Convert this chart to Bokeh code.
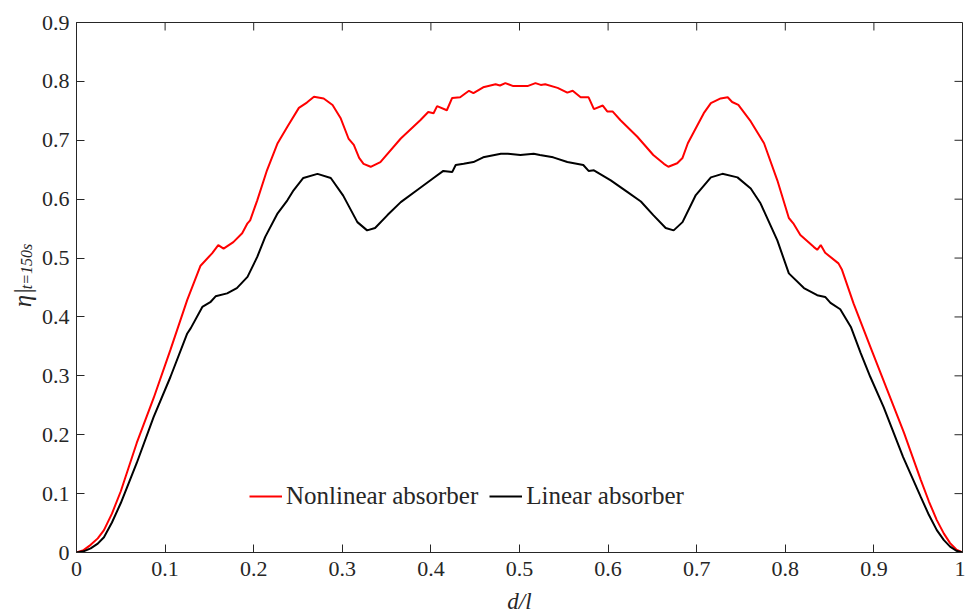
import numpy as np
from bokeh.plotting import figure
from bokeh.layouts import row, column
from bokeh.models import (ColumnDataSource, LinearAxis, Range1d, Legend, LegendItem,
                          Label, FixedTicker)
from bokeh.embed import file_html
from bokeh.resources import INLINE

# ---------------- data ----------------
nonlinear_x = [0, 0.008, 0.016, 0.024, 0.031, 0.04, 0.05, 0.068, 0.087, 0.106, 0.125, 0.140,
               0.153, 0.160, 0.166, 0.177, 0.187, 0.193, 0.196, 0.204, 0.215, 0.227, 0.238,
               0.251, 0.260, 0.268, 0.279, 0.289, 0.298, 0.307, 0.313, 0.319, 0.324, 0.332,
               0.343, 0.366, 0.388, 0.397, 0.403, 0.407, 0.418, 0.424, 0.433, 0.443, 0.448,
               0.459, 0.473, 0.478, 0.484, 0.493, 0.509, 0.518, 0.524, 0.529, 0.543, 0.554,
               0.560, 0.569, 0.578, 0.584, 0.594, 0.599, 0.605, 0.614, 0.633, 0.651, 0.663,
               0.668, 0.678, 0.684, 0.690, 0.696, 0.708, 0.716, 0.727, 0.735, 0.740, 0.747,
               0.761, 0.776, 0.791, 0.804, 0.809, 0.817, 0.832, 0.836, 0.840, 0.845, 0.860,
               0.864, 0.877, 0.896, 0.915, 0.934, 0.953, 0.962, 0.971, 0.979, 0.986, 0.993,
               1.0]
nonlinear_y = [0, 0.004, 0.013, 0.024, 0.038, 0.066, 0.104, 0.186, 0.262, 0.344, 0.429, 0.487,
               0.508, 0.522, 0.516, 0.527, 0.542, 0.559, 0.564, 0.598, 0.649, 0.695, 0.723,
               0.755, 0.764, 0.774, 0.771, 0.760, 0.738, 0.703, 0.692, 0.670, 0.660, 0.655,
               0.663, 0.703, 0.734, 0.748, 0.746, 0.758, 0.751, 0.772, 0.773, 0.784, 0.780,
               0.790, 0.795, 0.793, 0.797, 0.792, 0.792, 0.797, 0.794, 0.795, 0.789, 0.781,
               0.784, 0.773, 0.773, 0.753, 0.759, 0.749, 0.749, 0.734, 0.706, 0.675, 0.660,
               0.655, 0.661, 0.670, 0.695, 0.712, 0.746, 0.763, 0.771, 0.773, 0.765, 0.760,
               0.732, 0.695, 0.632, 0.568, 0.559, 0.539, 0.519, 0.514, 0.522, 0.509, 0.491,
               0.480, 0.423, 0.349, 0.276, 0.203, 0.123, 0.087, 0.055, 0.032, 0.016, 0.005,
               0]

linear_x = [0, 0.008, 0.016, 0.024, 0.031, 0.04, 0.05, 0.068, 0.087, 0.106, 0.125, 0.129,
            0.142, 0.151, 0.157, 0.170, 0.181, 0.193, 0.204, 0.213, 0.227, 0.238, 0.245,
            0.256, 0.272, 0.287, 0.301, 0.317, 0.328, 0.337, 0.351, 0.366, 0.385, 0.403,
            0.414, 0.424, 0.428, 0.437, 0.448, 0.459, 0.479, 0.487, 0.501, 0.516, 0.523,
            0.538, 0.554, 0.572, 0.578, 0.584, 0.603, 0.622, 0.637, 0.651, 0.665, 0.674,
            0.684, 0.699, 0.716, 0.729, 0.746, 0.761, 0.772, 0.791, 0.804, 0.821, 0.836,
            0.845, 0.851, 0.862, 0.874, 0.885, 0.896, 0.911, 0.933, 0.953, 0.962, 0.971,
            0.979, 0.986, 0.993, 1.0]
linear_y = [0, 0.002, 0.007, 0.015, 0.026, 0.051, 0.084, 0.152, 0.230, 0.298, 0.372, 0.381,
            0.417, 0.425, 0.435, 0.440, 0.449, 0.468, 0.502, 0.536, 0.576, 0.598, 0.615,
            0.636, 0.643, 0.636, 0.606, 0.561, 0.547, 0.551, 0.573, 0.595, 0.616, 0.636,
            0.648, 0.646, 0.658, 0.660, 0.663, 0.671, 0.677, 0.677, 0.675, 0.677, 0.675,
            0.671, 0.663, 0.658, 0.648, 0.649, 0.632, 0.612, 0.596, 0.573, 0.551, 0.547,
            0.561, 0.607, 0.637, 0.643, 0.637, 0.618, 0.593, 0.530, 0.474, 0.449, 0.437,
            0.434, 0.424, 0.413, 0.383, 0.339, 0.298, 0.247, 0.162, 0.094, 0.064, 0.038,
            0.021, 0.010, 0.003, 0]

x_ticks = [0, 0.1, 0.2, 0.3, 0.4, 0.5, 0.6, 0.7, 0.8, 0.9, 1.0]
y_ticks = [0, 0.1, 0.2, 0.3, 0.4, 0.5, 0.6, 0.7, 0.8, 0.9]
x_tick_labels = {0: "0", 0.1: "0.1", 0.2: "0.2", 0.3: "0.3", 0.4: "0.4", 0.5: "0.5",
                 0.6: "0.6", 0.7: "0.7", 0.8: "0.8", 0.9: "0.9", 1.0: "1"}
y_tick_labels = {0: "0", 0.1: "0.1", 0.2: "0.2", 0.3: "0.3", 0.4: "0.4", 0.5: "0.5",
                 0.6: "0.6", 0.7: "0.7", 0.8: "0.8", 0.9: "0.9"}
x_min, x_max = 0, 1
y_min, y_max = 0, 0.9
series_names = ["Nonlinear absorber", "Linear absorber"]
x_title = "d/l"
y_title_main = "η|"
y_title_sub = "t=150s"

# ---------------- styles ----------------
FONT = "Liberation Serif"
AX = "#262626"
W, H = 965, 614
LABEL_W = 38          # strip holding the y-axis title
XLAB_H = 26           # strip holding the x-axis title
BORDER_L, BORDER_R, BORDER_T = 76, 3, 22
MAIN_H = H - XLAB_H


def bare(fig):
    fig.outline_line_color = None
    fig.grid.visible = False
    fig.background_fill_color = "white"
    fig.border_fill_color = "white"


# ---------------- main figure ----------------
p = figure(width=W - LABEL_W, height=MAIN_H, output_backend="svg", toolbar_location=None,
           x_range=Range1d(x_min, x_max), y_range=Range1d(y_min, y_max),
           min_border_left=BORDER_L - LABEL_W, min_border_right=BORDER_R,
           min_border_top=BORDER_T, min_border_bottom=MAIN_H - 552,
           x_axis_location=None, y_axis_location=None)
bare(p)
p.outline_line_color = AX
p.outline_line_width = 1


def style_axis(ax, ticks, labels, standoff):
    ax.ticker = FixedTicker(ticks=ticks)
    ax.major_label_overrides = labels
    ax.minor_tick_line_color = None
    ax.major_tick_in = 8
    ax.major_tick_out = 0
    ax.major_tick_line_color = AX
    ax.major_tick_line_width = 1
    ax.axis_line_color = AX
    ax.axis_line_width = 1
    ax.major_label_text_font = FONT
    ax.major_label_text_color = AX
    ax.major_label_text_font_size = "22px"
    ax.major_label_standoff = standoff


bottom = LinearAxis()
style_axis(bottom, x_ticks, x_tick_labels, 9)
left = LinearAxis()
style_axis(left, y_ticks, y_tick_labels, 7)
p.add_layout(bottom, "below")
p.add_layout(left, "left")

# tick marks on the top and right edges of the box (mirroring the axis ticks)
p.ray(x=x_ticks, y=[y_max] * len(x_ticks), length=8, length_units="screen",
      angle=-np.pi / 2, line_color=AX, line_width=1)
p.ray(x=[x_max] * len(y_ticks), y=y_ticks, length=8, length_units="screen",
      angle=np.pi, line_color=AX, line_width=1)

src_nl = ColumnDataSource(dict(x=nonlinear_x, y=nonlinear_y))
src_l = ColumnDataSource(dict(x=linear_x, y=linear_y))
r_nl = p.line("x", "y", source=src_nl, line_color="#FF0000", line_width=2)
r_l = p.line("x", "y", source=src_l, line_color="#000000", line_width=2)

legend = Legend(items=[LegendItem(label=series_names[0], renderers=[r_nl]),
                       LegendItem(label=series_names[1], renderers=[r_l])],
                orientation="horizontal", location=(173, 42),
                label_text_font=FONT, label_text_font_size="25px", label_text_color=AX,
                glyph_width=33, glyph_height=20, label_standoff=4, spacing=11,
                padding=0, margin=0, border_line_color=None, background_fill_alpha=0)
p.add_layout(legend, "center")

# ---------------- strip under the main figure: x-axis title ----------------
r = figure(width=W - LABEL_W, height=XLAB_H, output_backend="svg", toolbar_location=None,
           x_range=Range1d(x_min, x_max), y_range=Range1d(0, XLAB_H),
           min_border_left=BORDER_L - LABEL_W, min_border_right=BORDER_R,
           min_border_top=0, min_border_bottom=0,
           x_axis_location=None, y_axis_location=None)
bare(r)
r.add_layout(Label(x=(x_min + x_max) / 2, y=XLAB_H - 13, text=x_title,
                   text_font=FONT, text_font_style="italic", text_font_size="23px",
                   text_color=AX, text_align="center", text_baseline="middle"))

# ---------------- strip left of the main figure: y-axis title ----------------
q = figure(width=LABEL_W, height=H, output_backend="svg", toolbar_location=None,
           x_range=Range1d(0, LABEL_W), y_range=Range1d(0, H),
           min_border=0, x_axis_location=None, y_axis_location=None)
bare(q)
q.add_layout(Label(x=22, y=H - 297, text=y_title_main,
                   text_font=FONT, text_font_style="italic", text_font_size="25px",
                   text_color=AX, text_align="center", text_baseline="alphabetic",
                   angle=np.pi / 2))
q.add_layout(Label(x=26, y=H - 266, text=y_title_sub,
                   text_font=FONT, text_font_style="italic", text_font_size="16px",
                   text_color=AX, text_align="center", text_baseline="alphabetic",
                   angle=np.pi / 2))

layout = row(q, column(p, r, spacing=0), spacing=0)
open("out.html", "w").write(file_html(layout, INLINE))
